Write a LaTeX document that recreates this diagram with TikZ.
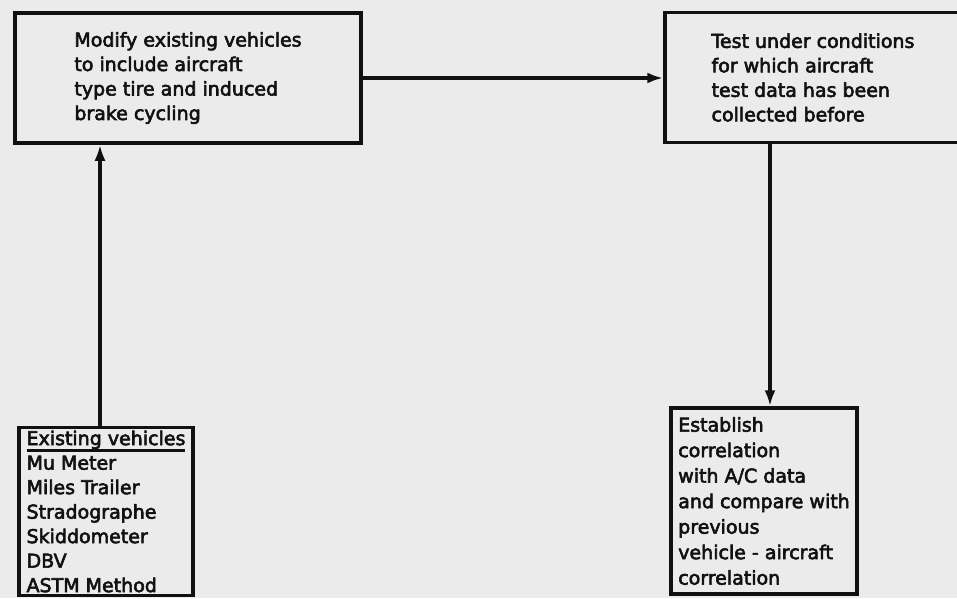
\documentclass[tikz,border=0pt]{standalone}
\usepackage{fontspec}
\setmainfont{DejaVu Sans}[FakeBold=3]
\usetikzlibrary{arrows.meta}
\definecolor{FCInk}{HTML}{111111}
\definecolor{FCPaper}{HTML}{EBEBEB}
\newcommand{\vehhead}[1]{\setbox0=\hbox{#1}\makebox[0pt][l]{\rule[-6.5pt]{\wd0}{2.4pt}}\box0}

\begin{document}
\begin{tikzpicture}[x=1pt,y=-1pt,
  stagebox/.style={draw=FCInk,line width=3.5pt,inner sep=0pt,align=left,
    text=FCInk,font=\fontsize{19pt}{24.5pt}\selectfont},
  flow/.style={draw=FCInk,line width=3.2pt,-{Latex[length=16pt,width=11pt]}}]
\fill[FCPaper] (0,0) rectangle (957,598);
\path[use as bounding box] (0,0) rectangle (957,598);
\clip (0,0) rectangle (957,598);
% boxes
\node[stagebox,minimum width=346pt,minimum height=130pt] (modify) at (188,78)
  {Modify existing vehicles\\to include aircraft\\type tire and induced\\brake cycling};
\node[stagebox,minimum width=296pt,minimum height=130pt] (testac) at (813,77.5)
  {Test under conditions\\for which aircraft\\test data has been\\collected before};
\node[stagebox,minimum width=174pt,minimum height=168pt] (existing) at (106,511.5)
  {\vehhead{Existing vehicles}\\Mu Meter\\Miles Trailer\\Stradographe\\Skiddometer\\DBV\\ASTM Method};
\node[stagebox,minimum width=186pt,minimum height=186pt,
  font=\fontsize{19pt}{25.5pt}\selectfont] (correl) at (764,501)
  {Establish\\correlation\\with A/C data\\and compare with\\previous\\vehicle - aircraft\\correlation};
% connectors
\coordinate (vehout) at ([xshift=-6pt]existing.north);
\coordinate (corrin) at ([xshift=6pt]correl.north);
\draw[flow] (vehout) -- (vehout |- modify.south);
\draw[flow] (modify.east) -- (modify.east -| testac.west);
\draw[flow] (corrin |- testac.south) -- (corrin);
\end{tikzpicture}
\end{document}
